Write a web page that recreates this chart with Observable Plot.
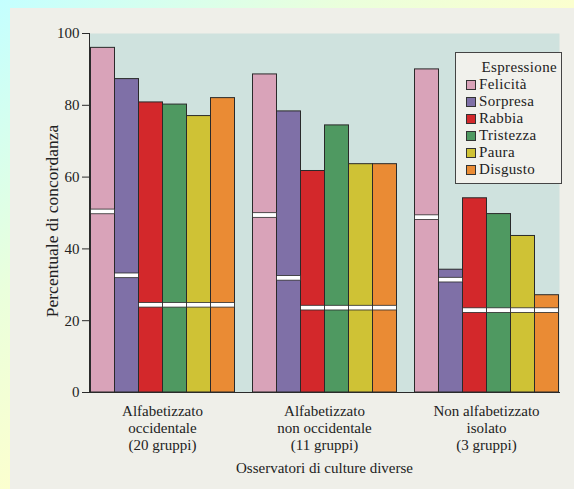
<!DOCTYPE html>
<html><head><meta charset="utf-8">
<script src="https://cdn.jsdelivr.net/npm/d3@7"></script>
<script src="https://cdn.jsdelivr.net/npm/@observablehq/plot@0.6"></script>
<style>
html,body{margin:0;padding:0;}
body{width:574px;height:489px;overflow:hidden;position:relative;
  background:linear-gradient(to bottom right,#c4ffff 0%,#eaffdc 30%,#ffffcc 55%,#ffffcc 100%);
  font-family:"Liberation Serif",serif;}
#page{position:absolute;left:10px;top:8px;width:564px;height:481px;background:#efefe9;}
#page svg{position:absolute;left:0;top:0;}
#legend{position:absolute;left:445px;top:44px;width:107px;height:132px;border:1px solid #444;background:#f1f1ec;
  color:#222;font-family:"Liberation Serif",serif !important;font-size:15px;letter-spacing:0.35px;line-height:17px;
  box-sizing:border-box;padding:6px 0 0 10px;}
#legend .t{text-align:right;padding-right:4px;margin-left:10px;}
#legend .i{display:flex;align-items:center;white-space:nowrap;height:17px;}
#legend .s{width:8px;height:8px;border:1px solid #333;margin-right:3px;flex:none;}
</style></head>
<body><div id="page"></div>
<script>
const groups = ["Alfabetizzato\noccidentale\n(20 gruppi)", "Alfabetizzato\nnon occidentale\n(11 gruppi)", "Non alfabetizzato\nisolato\n(3 gruppi)"];
const expressions = ["Felicità", "Sorpresa", "Rabbia", "Tristezza", "Paura", "Disgusto"];
const colors = ["#d9a3b9", "#7f70a7", "#d3282b", "#4f9961", "#cfc235", "#ea8b34"];
const valuesG1 = [96, 87.3, 80.8, 80.2, 77, 82];
const valuesG2 = [88.6, 78.3, 61.7, 74.4, 63.6, 63.6];
const valuesG3 = [90, 34.2, 54.1, 49.7, 43.6, 27.1];
const chanceG1 = [50.3, 32.5, 24.3, 24.3, 24.3, 24.3];
const chanceG2 = [49.3, 31.8, 23.5, 23.5, 23.5, 23.5];
const chanceG3 = [48.7, 31.3, 22.8, 22.8, 22.8, 22.8];
const yTicks = [0, 20, 40, 60, 80, 100];

const values = [valuesG1, valuesG2, valuesG3];
const chances = [chanceG1, chanceG2, chanceG3];
const table = groups.flatMap((g, gi) => expressions.map((e, ei) => ({group: g, expr: e, value: values[gi][ei], chance: chances[gi][ei]})));

const ink = "#2a2a2a";
const plot = Plot.plot({
  width: 564, height: 481,
  marginLeft: 70.5, marginRight: 7, marginTop: 25, marginBottom: 97,
  style: {fontFamily: "Liberation Serif", fontSize: "15px", color: "#222", background: "transparent"},
  fx: {domain: groups, paddingInner: 0.1, paddingOuter: 0.05},
  x: {domain: expressions, padding: 0, axis: null},
  y: {domain: [0, 100], axis: null},
  color: {domain: expressions, range: colors},
  marks: [
    Plot.frame({fill: "#cfe2de", facet: "super"}),
    Plot.barY(table, {fx: "group", x: "expr", y: "value", fill: "expr", stroke: ink, strokeWidth: 1}),
    Plot.barY(table, {fx: "group", x: "expr", y1: d => d.chance - 0.65, y2: d => d.chance + 0.65, fill: "white", stroke: ink, strokeWidth: 0.8}),
    Plot.axisY({ticks: yTicks, tickSize: 7, tickPadding: 3, fontSize: 15, stroke: ink,
      label: "Percentuale di concordanza", labelAnchor: "center", labelArrow: "none", labelOffset: 44}),
    Plot.axisFx({anchor: "bottom", tickSize: 0, tickPadding: 11, fontSize: 15, lineHeight: 1.15,
      label: "Osservatori di culture diverse", labelAnchor: "center", labelArrow: "none", labelOffset: 80}),
    Plot.frame({anchor: "left", stroke: ink, facet: "super"}),
    Plot.frame({anchor: "bottom", stroke: ink, facet: "super"})
  ]
});
const yl = d3.select(plot).select("g[aria-label='y-axis label']");
yl.style("font-size", "17.5px");
yl.attr("transform", (yl.attr("transform") || "") + " translate(0,8)");
document.getElementById("page").appendChild(plot);

const lg = document.createElement("div");
lg.id = "legend";
lg.innerHTML = `<div class="t">Espressione</div>` + expressions.map((e, i) =>
  `<div class="i"><span class="s" style="background:${colors[i]}"></span>${e}</div>`).join("");
document.getElementById("page").appendChild(lg);
</script>
</body></html>
